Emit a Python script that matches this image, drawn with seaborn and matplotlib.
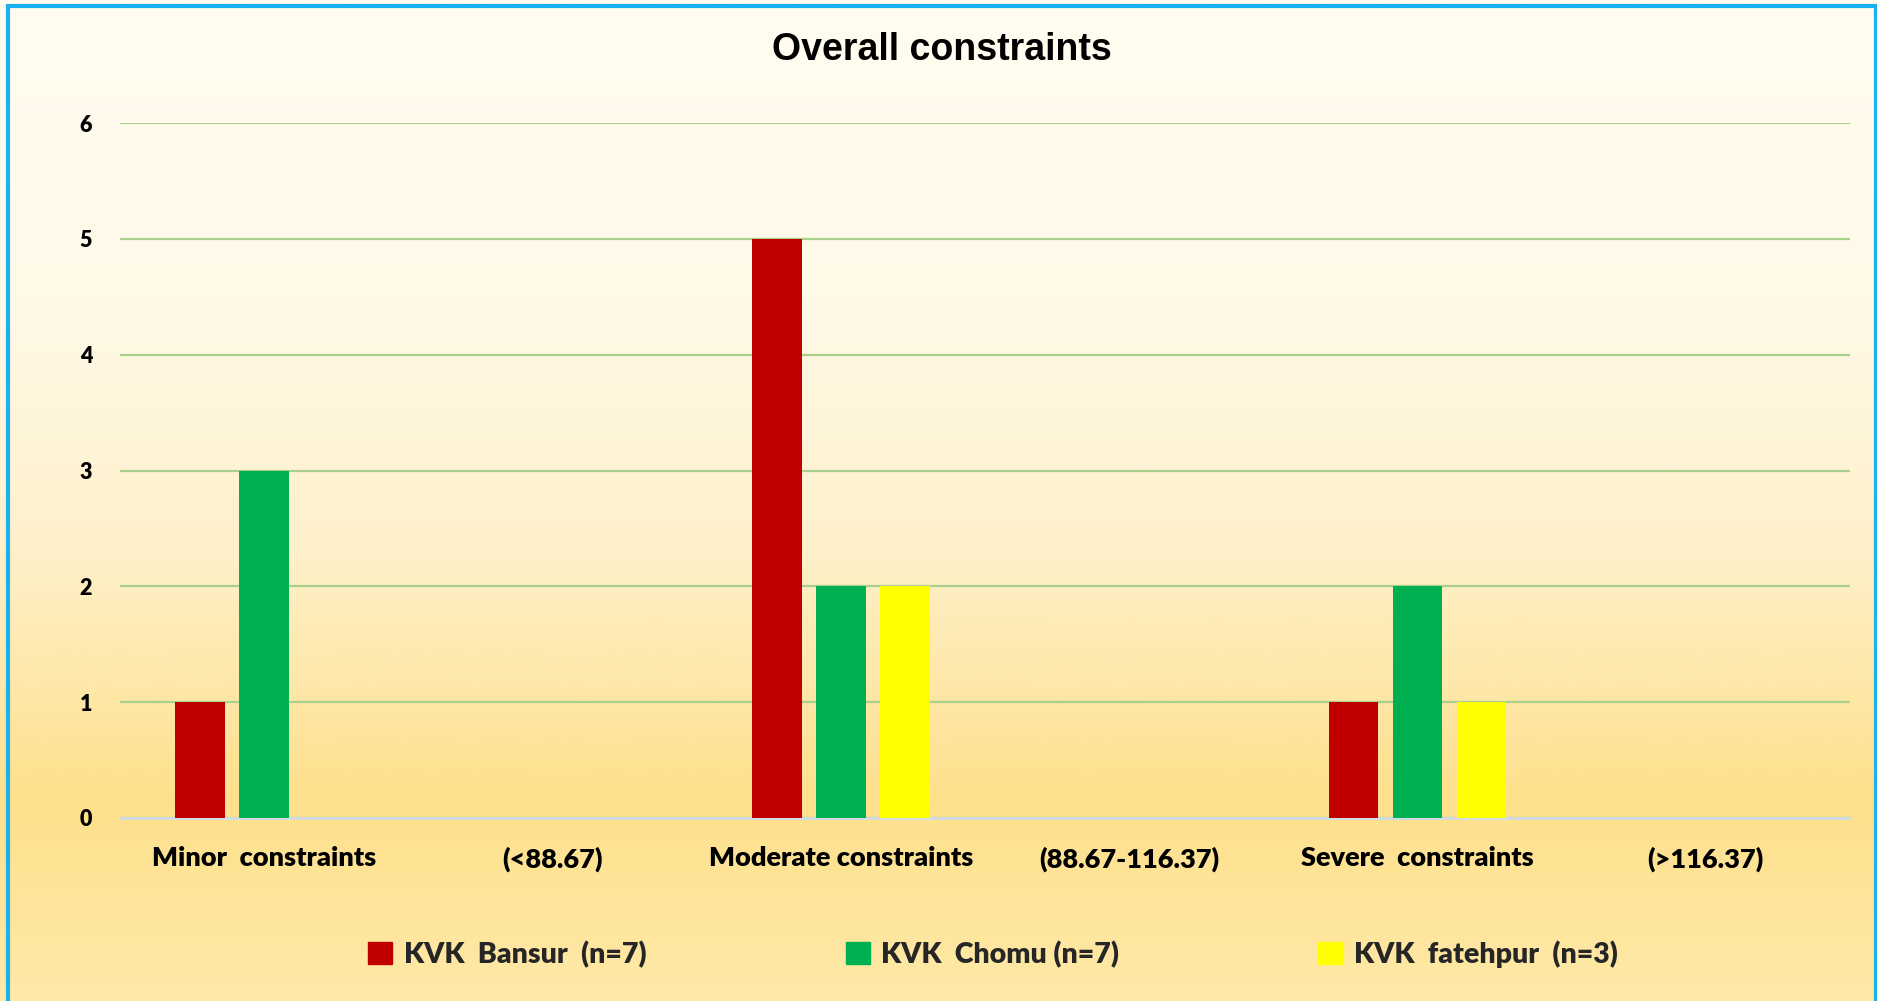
import numpy as np
import pandas as pd
import matplotlib
matplotlib.use("Agg")
import matplotlib.pyplot as plt
from matplotlib.colors import LinearSegmentedColormap
from matplotlib.patches import Rectangle
import seaborn as sns

# Data
categories = ["Minor  constraints", "(<88.67)", "Moderate constraints",
              "(88.67-116.37)", "Severe  constraints", "(>116.37)"]
series_names = ["KVK  Bansur  (n=7)", "KVK  Chomu (n=7)", "KVK  fatehpur  (n=3)"]
bansur = [1, 0, 5, 0, 1, 0]
chomu = [3, 0, 2, 0, 2, 0]
fatehpur = [0, 0, 2, 0, 1, 0]
colors = ["#C00000", "#00B050", "#FFFF00"]

df = pd.DataFrame({
    "category": categories * 3,
    "group": [series_names[0]] * 6 + [series_names[1]] * 6 + [series_names[2]] * 6,
    "count": bansur + chomu + fatehpur,
})

sns.set_theme(style="white")
plt.rcParams["font.family"] = ["Lato", "DejaVu Sans"]

W, H = 1877, 1001
fig = plt.figure(figsize=(W / 100, H / 100), dpi=100)

# Vertical gradient background
bg = fig.add_axes([0, 0, 1, 1], zorder=-10)
grad_cmap = LinearSegmentedColormap.from_list(
    "bg",
    [(0.0, "#FFFCF0"), (0.30, "#FFF9E8"), (0.55, "#FEF0CA"),
     (0.80, "#FEE08C"), (1.0, "#FFE9A8")])
g = np.linspace(0, 1, 512).reshape(-1, 1)
bg.imshow(g, aspect="auto", cmap=grad_cmap, extent=[0, 1, 0, 1], origin="upper")
bg.set_axis_off()

ax = fig.add_axes([120 / W, 1 - 818 / H, (1850 - 120) / W, (818 - 123) / H])
ax.set_facecolor("none")

sns.barplot(data=df, x="category", y="count", hue="group", order=categories,
            hue_order=series_names, palette=colors, width=0.666, gap=0.22,
            saturation=1, linewidth=0, ax=ax, legend=False, zorder=3)

ax.set_ylim(0, 6)
ax.set_yticks(range(0, 7))
ax.set_xlim(-0.5, 5.5)
ax.yaxis.grid(True, color="#A9D18E", linewidth=1.6, zorder=0)
ax.set_axisbelow(True)
for s in ["top", "right", "left"]:
    ax.spines[s].set_visible(False)
ax.spines["bottom"].set_color("#D0DCE8")
ax.spines["bottom"].set_linewidth(2)
ax.set_xlabel("")
ax.set_ylabel("")
ax.tick_params(axis="both", length=0)
ax.tick_params(axis="y", pad=20, labelsize=15.5)
ax.tick_params(axis="x", pad=20.5, labelsize=19.5)
for lab in ax.get_xticklabels() + ax.get_yticklabels():
    lab.set_fontweight("heavy")
    lab.set_color("black")

fig.text(0.502, 1 - 50 / H, "Overall constraints",
         ha="center", va="center", fontsize=27, fontweight="bold",
         family=["Liberation Sans", "DejaVu Sans"], color="black")

# Legend
handles = [Rectangle((0, 0), 1, 1, color=c) for c in colors]
fig.legend(handles, series_names, loc="center", bbox_to_anchor=(0.529, 1 - 954 / H),
           ncol=3, frameon=False, handlelength=0.85, handleheight=0.85,
           handletextpad=0.4, columnspacing=7.0,
           prop={"family": ["Lato", "DejaVu Sans"], "weight": "heavy", "size": 20.5})

# Outer border
fig.patches.append(Rectangle((8 / W, -0.01), (1876 - 8) / W, 1 - 6 / H + 0.01,
                             transform=fig.transFigure, fill=False,
                             edgecolor="#1AB2EE", linewidth=3, zorder=10))

fig.savefig("out.png", dpi=100)
